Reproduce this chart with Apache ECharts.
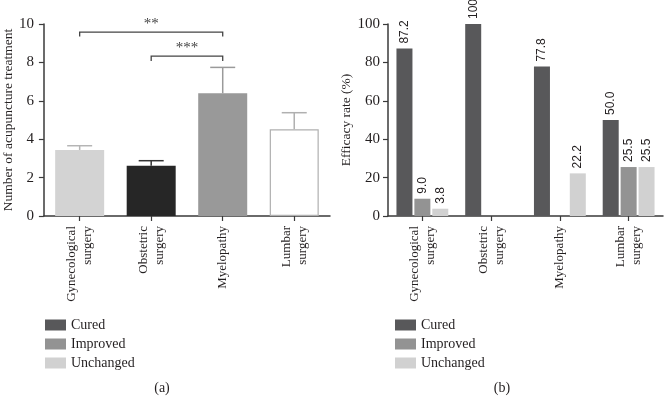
<!DOCTYPE html>
<html>
<head>
<meta charset="utf-8">
<script src="https://cdn.jsdelivr.net/npm/echarts@6/dist/echarts.min.js"></script>
<style>html,body{margin:0;padding:0;background:#fff;}#c{width:664px;height:408px;}</style>
</head>
<body>
<div id="c"></div>
<script>
// ---- Data ----
const categories = ['Gynecological\nsurgery', 'Obstetric\nsurgery', 'Myelopathy', 'Lumbar\nsurgery'];
// Panel (a): number of acupuncture treatments (mean and upper error)
const treatMean = [3.44, 2.62, 6.39, 4.52];
const treatUpper = [3.66, 2.88, 7.74, 5.38];
// significance brackets: [fromCategory, toCategory, barLevel, tickEndLevel, label]
const brackets = [[0, 2, 9.58, 9.35, '**'], [1, 2, 8.33, 8.07, '***']];
const leftTicks = [0, 10, 2]; // min, max, interval
// Panel (b): efficacy rate (%)
const seriesNames = ['Cured', 'Improved', 'Unchanged'];
const cured = [87.2, 100, 77.8, 50.0];
const improved = [9.0, 0, 0, 25.5];
const unchanged = [3.8, 0, 22.2, 25.5];
const rightTicks = [0, 100, 20];

const SERIF = '"Liberation Serif", "DejaVu Serif", serif';
const SANS = '"Liberation Sans", Arial, sans-serif';
const TXT = '#231f20';
const AX = '#3a3a3a';
const barFill = ['#d3d3d3', '#262626', '#999999', '#ffffff'];
const errColor = ['#b5b5b5', '#333333', '#9a9a9a', '#b0b0b0'];
const effColors = ['#58585a', '#939393', '#d1d1d1'];

const chart = echarts.init(document.getElementById('c'), null, {renderer: 'canvas'});

function xAxisCfg(gi) {
  return {
    type: 'category', gridIndex: gi, data: categories,
    axisLine: {lineStyle: {color: AX, width: 1.5}},
    axisTick: {show: true, alignWithLabel: true, length: 5, lineStyle: {color: AX, width: 1.2}},
    axisLabel: {rotate: 90, margin: 10, fontFamily: SERIF, fontSize: 13, color: TXT, lineHeight: 16, interval: 0}
  };
}
function yAxisCfg(gi, t, name, gap, margin) {
  return {
    type: 'value', gridIndex: gi, min: t[0], max: t[1], interval: t[2],
    name: name, nameLocation: 'middle', nameGap: gap,
    nameTextStyle: {fontFamily: SERIF, fontSize: 13.5, color: TXT},
    axisLine: {show: true, lineStyle: {color: AX, width: 1.5}},
    axisTick: {show: true, length: 5, lineStyle: {color: AX, width: 1.2}},
    axisLabel: {margin: margin, fontFamily: SERIF, fontSize: 15, color: TXT},
    splitLine: {show: false}
  };
}

function labelFmt(p) {
  const v = p.value;
  if (v === 0) return '';
  return v === 100 ? '100' : v.toFixed(1);
}

const effData = [cured, improved, unchanged];
const effSeries = seriesNames.map((n, i) => ({
  name: n, type: 'bar', xAxisIndex: 1, yAxisIndex: 1,
  data: effData[i], barWidth: 16, barGap: '12%',
  itemStyle: {color: effColors[i]},
  label: {show: true, position: 'top', rotate: 90, align: 'left', verticalAlign: 'middle', distance: 5,
    fontFamily: SANS, fontSize: 12, color: TXT, formatter: labelFmt}
}));

const legendCfg = (left) => ({
  data: seriesNames, orient: 'vertical', left: left, top: 313,
  icon: 'rect', itemWidth: 21, itemHeight: 11, itemGap: 5,
  textStyle: {fontFamily: SERIF, fontSize: 14, color: TXT}, selectedMode: false
});

chart.setOption({
  animation: false,
  backgroundColor: '#ffffff',
  grid: [
    {left: 43, top: 24, width: 287, height: 192},
    {left: 388, top: 24, width: 275, height: 192}
  ],
  xAxis: [xAxisCfg(0), xAxisCfg(1)],
  yAxis: [
    yAxisCfg(0, leftTicks, 'Number of acupuncture treatment', 28, 10),
    yAxisCfg(1, rightTicks, 'Efficacy rate (%)', 27, 8)
  ],
  legend: [legendCfg(40), legendCfg(390)],
  graphic: [
    {type: 'text', x: 162, y: 388, style: {text: '(a)', align: 'center', verticalAlign: 'middle', font: '14px ' + SERIF, fill: TXT}},
    {type: 'text', x: 502, y: 388, style: {text: '(b)', align: 'center', verticalAlign: 'middle', font: '14px ' + SERIF, fill: TXT}}
  ],
  series: [
    {
      name: 'Treatments', type: 'bar', xAxisIndex: 0, yAxisIndex: 0, barWidth: 49,
      data: treatMean.map((v, i) => ({
        value: v,
        itemStyle: {color: barFill[i], borderColor: i === 3 ? '#b0b0b0' : barFill[i], borderWidth: i === 3 ? 1.2 : 0}
      }))
    },
    {
      name: 'ErrorBars', type: 'custom', xAxisIndex: 0, yAxisIndex: 0,
      data: treatMean.map((v, i) => [i, v, treatUpper[i]]),
      renderItem: function (params, api) {
        const i = api.value(0);
        const p0 = api.coord([i, api.value(1)]);
        const p1 = api.coord([i, api.value(2)]);
        const half = 12.5;
        const st = {stroke: errColor[i], lineWidth: 1.5, fill: null};
        return {type: 'group', children: [
          {type: 'line', shape: {x1: p0[0], y1: p0[1], x2: p1[0], y2: p1[1]}, style: st},
          {type: 'line', shape: {x1: p1[0] - half, y1: p1[1], x2: p1[0] + half, y2: p1[1]}, style: st}
        ]};
      },
      z: 3
    },
    {
      name: 'Brackets', type: 'custom', xAxisIndex: 0, yAxisIndex: 0, clip: false,
      data: brackets,
      renderItem: function (params, api) {
        const b = brackets[params.dataIndex];
        const a = api.coord([b[0], b[2]]);
        const c = api.coord([b[1], b[2]]);
        const lo = api.coord([b[0], b[3]]);
        return {type: 'group', children: [
          {type: 'polyline', shape: {points: [[a[0], lo[1]], [a[0], a[1]], [c[0], c[1]], [c[0], lo[1]]]},
            style: {stroke: '#444', lineWidth: 1.3, fill: null}},
          {type: 'text', x: (a[0] + c[0]) / 2, y: a[1] - 8,
            style: {text: b[4], align: 'center', verticalAlign: 'middle', font: '15px ' + SERIF, fill: '#444'}}
        ]};
      }
    }
  ].concat(effSeries)
});
</script>
</body>
</html>
